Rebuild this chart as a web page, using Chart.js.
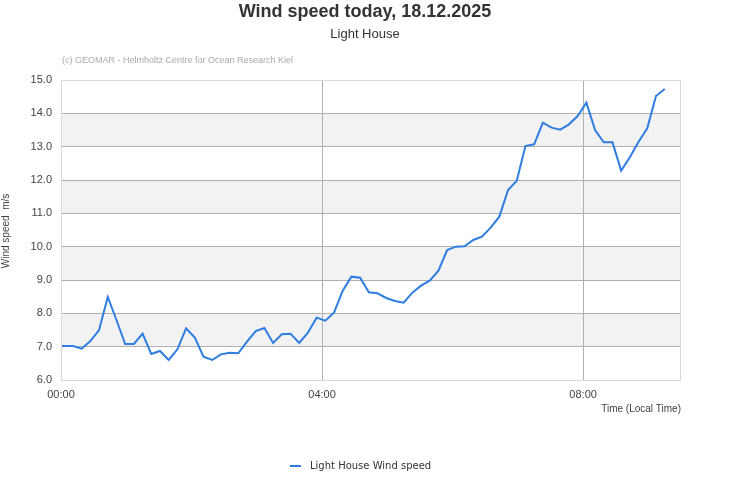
<!DOCTYPE html>
<html>
<head>
<meta charset="utf-8">
<script src="https://cdn.jsdelivr.net/npm/chart.js@4"></script>
<style>
  html, body { margin: 0; padding: 0; background: #fff; }
  #wrap { width: 731px; height: 500px; position: relative; }
</style>
</head>
<body>
<div id="wrap"><canvas id="wind-chart"></canvas></div>
<script>
// Minutes since midnight for each reading
const minutes = [0, 11, 19, 27, 35, 43, 51, 59, 67, 75, 83, 91, 99, 107, 115, 123, 131, 139, 147, 155,
    163, 171, 179, 187, 195, 203, 211, 219, 227, 235, 243, 251, 259, 267, 275, 283, 291, 299, 307, 315,
    323, 331, 339, 347, 355, 363, 371, 379, 387, 395, 403, 411, 419, 427, 435, 443, 451, 459, 467, 475,
    483, 491, 499, 507, 515, 523, 531, 539, 547, 555];

// Wind speed in m/s
const windSpeed = [7.02, 7.02, 6.94, 7.17, 7.50, 8.49, 7.80, 7.08, 7.08, 7.39, 6.78, 6.87, 6.60, 6.92, 7.55,
    7.27, 6.70, 6.60, 6.77, 6.82, 6.80, 7.15, 7.47, 7.56, 7.11, 7.37, 7.39, 7.11, 7.42, 7.87,
    7.78, 8.02, 8.68, 9.10, 9.07, 8.63, 8.60, 8.46, 8.37, 8.32, 8.62, 8.83, 8.98, 9.28, 9.90,
    10.00, 10.01, 10.20, 10.30, 10.57, 10.90, 11.70, 11.98, 13.02, 13.07, 13.72, 13.57, 13.51, 13.67, 13.92,
    14.32, 13.50, 13.13, 13.13, 12.28, 12.68, 13.15, 13.55, 14.52, 14.73];

// Axis ticks
const timeTicks = [0, 240, 480];
const timeLabels = ['00:00', '04:00', '08:00'];
const shadedBands = [[7, 8], [9, 10], [11, 12], [13, 14]];

const lineColor = '#2e7de0';
const gridColor = '#b0b0b0';
const frameColor = '#d8d8d8';
const font = 'Arial, "Liberation Sans", sans-serif';

/**
 * Shaded bands behind the grid and all the loose texts around the plot
 */
const decorations = {
    id: 'decorations',
    beforeDraw(chart) {
        const { ctx, chartArea, scales } = chart;
        ctx.save();
        ctx.fillStyle = '#f2f2f2';
        shadedBands.forEach(([from, to]) => {
            const top = scales.y.getPixelForValue(to);
            const bottom = scales.y.getPixelForValue(from);
            ctx.fillRect(chartArea.left, top, chartArea.right - chartArea.left, bottom - top);
        });
        ctx.restore();
    },
    afterDraw(chart) {
        const { ctx, chartArea } = chart;
        ctx.save();

        // Frame around the plot
        ctx.strokeStyle = frameColor;
        ctx.lineWidth = 1;
        ctx.strokeRect(chartArea.left + 0.5, chartArea.top + 0.5,
            chartArea.right - chartArea.left - 1, chartArea.bottom - chartArea.top);

        // Title and subtitle
        ctx.textAlign = 'center';
        ctx.textBaseline = 'middle';
        ctx.fillStyle = '#333';
        ctx.font = 'bold 18px ' + font;
        ctx.fillText('Wind speed today, 18.12.2025', 365, 12);
        ctx.font = '13px ' + font;
        ctx.fillText('Light House', 365, 34);

        // Copyright
        ctx.textAlign = 'left';
        ctx.fillStyle = '#aaa';
        ctx.font = '9px ' + font;
        ctx.fillText('(c) GEOMAR - Helmholtz Centre for Ocean Research Kiel', 62, 61);

        // X axis title
        ctx.textAlign = 'right';
        ctx.fillStyle = '#444';
        ctx.font = '10px ' + font;
        ctx.fillText('Time (Local Time)', chartArea.right, 409);

        // Y axis title
        ctx.save();
        ctx.translate(6, 231);
        ctx.rotate(-Math.PI / 2);
        ctx.textAlign = 'center';
        ctx.fillText('Wind speed  m/s', 0, 0);
        ctx.restore();

        // Legend
        const ds = chart.data.datasets[0];
        ctx.strokeStyle = ds.borderColor;
        ctx.lineWidth = 2;
        ctx.beginPath();
        ctx.moveTo(290, 466);
        ctx.lineTo(301, 466);
        ctx.stroke();
        ctx.textAlign = 'left';
        ctx.fillStyle = '#333';
        ctx.font = '10px "DejaVu Sans", sans-serif';
        ctx.fillText(ds.label, 310, 466);

        ctx.restore();
    }
};

new Chart(document.getElementById('wind-chart'), {
    type: 'line',
    data: {
        datasets: [{
            label: 'Light House Wind speed',
            data: minutes.map((m, i) => ({ x: m, y: windSpeed[i] })),
            borderColor: lineColor,
            borderWidth: 2,
            pointRadius: 0,
            tension: 0,
            fill: false
        }]
    },
    options: {
        responsive: true,
        maintainAspectRatio: false,
        animation: false,
        layout: {
            padding: { top: 80, left: 0, right: 50, bottom: 100 }
        },
        plugins: {
            legend: { display: false },
            title: { display: false },
            tooltip: { enabled: false }
        },
        scales: {
            x: {
                type: 'linear',
                min: 0,
                max: 570,
                afterBuildTicks: (scale) => {
                    scale.ticks = timeTicks.map((v) => ({ value: v }));
                },
                afterFit: (scale) => { scale.height = 20; },
                ticks: {
                    callback: (value) => timeLabels[timeTicks.indexOf(value)],
                    color: '#444',
                    font: { family: font, size: 11 },
                    padding: 8,
                    maxRotation: 0
                },
                grid: {
                    color: (c) => (c.tick && c.tick.value === 0 ? frameColor : gridColor),
                    drawTicks: false
                },
                border: { display: false }
            },
            y: {
                min: 6,
                max: 15,
                afterFit: (scale) => { scale.width = 61; },
                ticks: {
                    stepSize: 1,
                    callback: (value) => value.toFixed(1),
                    color: '#444',
                    font: { family: font, size: 11 },
                    padding: 9
                },
                grid: {
                    color: (c) => (c.tick && (c.tick.value === 6 || c.tick.value === 15) ? frameColor : gridColor),
                    drawTicks: false
                },
                border: { display: false }
            }
        }
    },
    plugins: [decorations]
});
</script>
</body>
</html>
